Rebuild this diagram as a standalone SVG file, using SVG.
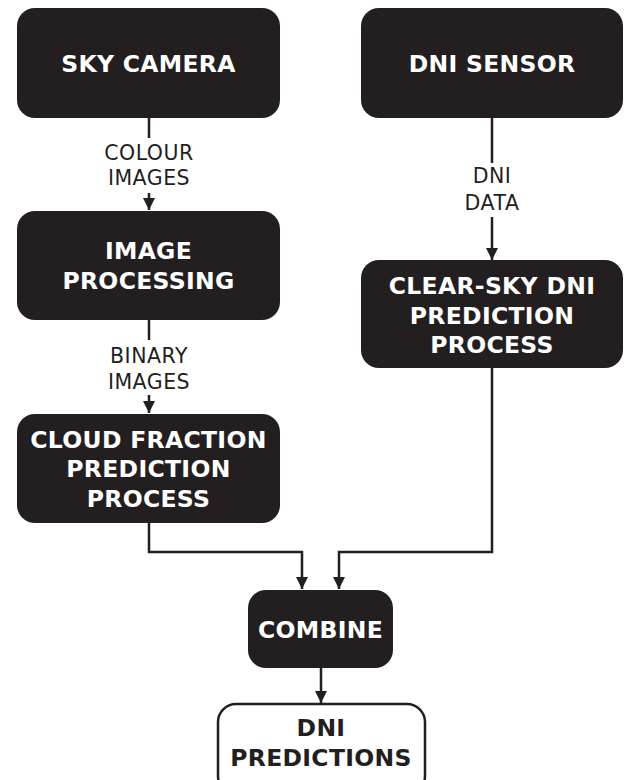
<svg xmlns="http://www.w3.org/2000/svg" width="626" height="780" viewBox="0 0 626 780">
<style>
.box{fill:#231f20;}
.obox{fill:#ffffff;stroke:#231f20;stroke-width:2.5;}
.t{font-family:"DejaVu Sans",Verdana,sans-serif;font-weight:bold;font-size:23.5px;letter-spacing:0.3px;fill:#ffffff;text-anchor:middle;}
.td{fill:#231f20;}
.lbl{font-family:"DejaVu Sans",Verdana,sans-serif;font-size:20.5px;letter-spacing:0.5px;fill:#231f20;text-anchor:middle;}
.c{fill:none;stroke:#231f20;stroke-width:2.5;}
</style>
<defs>
<marker id="ah" markerUnits="userSpaceOnUse" markerWidth="12" markerHeight="12" viewBox="0 0 12 12" refX="12" refY="6" orient="auto">
<path d="M0,0 L12,6 L0,12 z" fill="#231f20"/>
</marker>
</defs>
<rect width="626" height="780" fill="#ffffff"/>
<g id="connectors">
<path class="c" d="M149,118 V138"/>
<path class="c" d="M149,193 V210" marker-end="url(#ah)"/>
<path class="c" d="M149,320 V340"/>
<path class="c" d="M149,395 V413" marker-end="url(#ah)"/>
<path class="c" d="M492,118 V163"/>
<path class="c" d="M492,217 V260" marker-end="url(#ah)"/>
<path class="c" d="M149,523 V552 H302 V589" marker-end="url(#ah)"/>
<path class="c" d="M492,368 V552 H339 V589" marker-end="url(#ah)"/>
<path class="c" d="M321,668 V703" marker-end="url(#ah)"/>
<text class="lbl" x="149" y="160">COLOUR</text>
<text class="lbl" x="149" y="185">IMAGES</text>
<text class="lbl" x="149" y="363">BINARY</text>
<text class="lbl" x="149" y="389">IMAGES</text>
<text class="lbl" x="492" y="183">DNI</text>
<text class="lbl" x="492" y="210">DATA</text>
</g>
<g id="sky-camera">
<rect class="box" x="17" y="8" width="263" height="110" rx="18"/>
<text class="t" x="148.5" y="72">SKY CAMERA</text>
</g>
<g id="dni-sensor">
<rect class="box" x="361" y="8" width="262" height="110" rx="18"/>
<text class="t" x="492" y="72">DNI SENSOR</text>
</g>
<g id="image-processing">
<rect class="box" x="17" y="211" width="263" height="109" rx="18"/>
<text class="t" x="148.5" y="259">IMAGE</text>
<text class="t" x="148.5" y="289">PROCESSING</text>
</g>
<g id="clear-sky">
<rect class="box" x="361" y="260" width="262" height="108" rx="18"/>
<text class="t" x="492" y="294">CLEAR-SKY DNI</text>
<text class="t" x="492" y="324">PREDICTION</text>
<text class="t" x="492" y="353">PROCESS</text>
</g>
<g id="cloud-fraction">
<rect class="box" x="17" y="414" width="263" height="109" rx="18"/>
<text class="t" x="148.5" y="448">CLOUD FRACTION</text>
<text class="t" x="148.5" y="477">PREDICTION</text>
<text class="t" x="148.5" y="507">PROCESS</text>
</g>
<g id="combine">
<rect class="box" x="248" y="590" width="145" height="78" rx="18"/>
<text class="t" x="320.5" y="638">COMBINE</text>
</g>
<g id="dni-predictions">
<rect class="obox" x="218" y="704" width="207" height="90" rx="18"/>
<text class="t td" x="321" y="736">DNI</text>
<text class="t td" x="321" y="766">PREDICTIONS</text>
</g>
</svg>
